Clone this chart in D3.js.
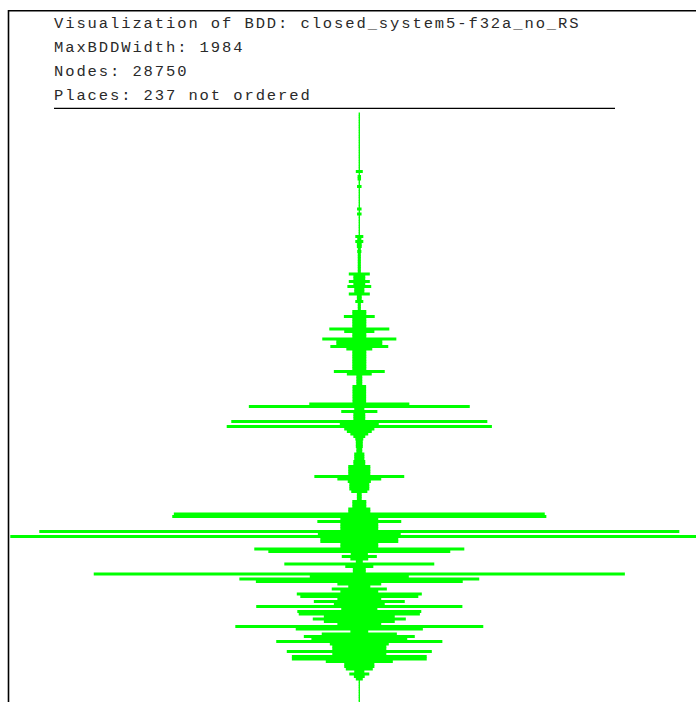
<!DOCTYPE html>
<html>
<head>
<meta charset="utf-8">
<script src="https://cdn.jsdelivr.net/npm/d3@7"></script>
<style>
  html, body { margin: 0; padding: 0; background: #ffffff; overflow: hidden; }
</style>
</head>
<body>
<div id="bdd-chart"></div>
<script>
var bddName = "closed_system5-f32a_no_RS";
var maxBddWidth = 1984;
var nodeCount = 28750;
var placeCount = 237;

var headerLines = [
    "Visualization of BDD: " + bddName,
    "MaxBDDWidth: " + maxBddWidth,
    "Nodes: " + nodeCount,
    "Places: " + placeCount + " not ordered"
];

// nodes per level, top level first
var levelWidths = [
    1, 1, 1, 1, 1, 1, 1, 1, 1, 1,
    1, 1, 1, 1, 1, 1, 1, 1, 1, 1,
    1, 1, 1, 17, 1, 7, 7, 1, 1, 10,
    1, 1, 1, 1, 1, 1, 1, 1, 10, 1,
    10, 1, 1, 1, 1, 1, 1, 1, 1, 20,
    9, 20, 11, 11, 6, 9, 6, 6, 6, 6,
    6, 6, 6, 6, 57, 31, 31, 57, 31, 65,
    26, 26, 57, 11, 11, 20, 6, 6, 6, 37,
    37, 85, 37, 37, 37, 37, 168, 83, 37, 37,
    208, 128, 128, 162, 71, 37, 37, 37, 37, 37,
    37, 37, 37, 142, 68, 14, 14, 14, 14, 36,
    36, 36, 36, 36, 36, 36, 282, 626, 26, 100,
    31, 31, 31, 726, 108, 752, 83, 68, 48, 31,
    20, 17, 17, 17, 14, 14, 26, 26, 26, 31,
    31, 60, 60, 60, 60, 253, 122, 63, 54, 54,
    54, 43, 11, 11, 11, 37, 37, 37, 60, 60,
    1053, 1062, 105, 236, 105, 105, 105, 1819, 233, 1984,
    219, 219, 105, 105, 595, 515, 46, 97, 48, 17,
    424, 77, 34, 34, 1509, 279, 680, 586, 122, 60,
    154, 105, 353, 333, 122, 256, 142, 584, 100, 350,
    342, 199, 262, 199, 122, 703, 359, 48, 211, 313,
    270, 470, 165, 151, 151, 410, 151, 381, 381, 188,
    83, 83, 74, 26, 54, 28, 17, 1, 1, 1,
    1, 1, 1, 1, 1, 1, 1
];

var width = 696,
    height = 702;
var centerX = 359.3;
var barColor = "#00ff00";

var svg = d3.select("#bdd-chart")
    .append("svg")
    .attr("width", width)
    .attr("height", height);

svg.append("rect")
    .attr("width", width)
    .attr("height", height)
    .attr("fill", "#ffffff");

// frame, left and top
svg.append("path")
    .attr("d", "M8.5," + height + "V10.8H" + width)
    .attr("fill", "none")
    .attr("stroke", "#000000")
    .attr("stroke-width", 1.6);

// header text
svg.selectAll("text.header")
    .data(headerLines)
    .enter()
    .append("text")
    .attr("class", "header")
    .attr("x", 54)
    .attr("y", (d, i) => 27.5 + i * 24.3)
    .attr("font-family", "'Liberation Mono', 'Courier New', monospace")
    .attr("font-size", 15.5)
    .attr("letter-spacing", 1.9)
    .attr("fill", "#2a2a2a")
    .text(d => d);

svg.append("line")
    .attr("x1", 54)
    .attr("x2", 615)
    .attr("y1", 108.3)
    .attr("y2", 108.3)
    .attr("stroke", "#000000")
    .attr("stroke-width", 1.2);

var x = d3.scaleLinear()
    .domain([0, maxBddWidth])
    .range([0, 697]);

var y = d3.scaleBand()
    .domain(d3.range(levelWidths.length))
    .range([112.75, 112.75 + levelWidths.length * 2.5]);

// rows overlap a little so neighbouring levels leave no seam
svg.append("g")
    .selectAll("rect")
    .data(levelWidths)
    .enter()
    .append("rect")
    .attr("x", d => centerX - (x(d) + 1) / 2)
    .attr("y", (d, i) => y(i) - 0.25)
    .attr("width", d => x(d) + 1)
    .attr("height", y.bandwidth() + 0.5)
    .attr("fill", barColor);
</script>
</body>
</html>
